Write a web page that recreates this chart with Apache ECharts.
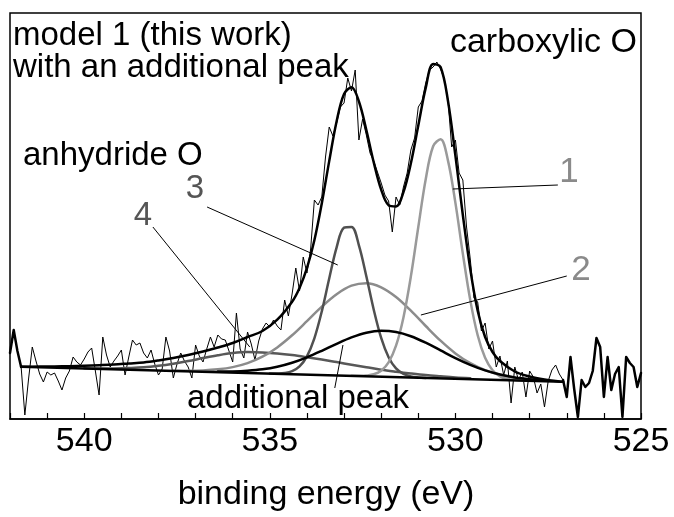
<!DOCTYPE html>
<html>
<head>
<meta charset="utf-8">
<title>O 1s spectrum – model 1</title>
<script src="https://cdn.jsdelivr.net/npm/echarts@6/dist/echarts.min.js"></script>
<style>
  html, body { margin: 0; padding: 0; background: #fff; }
  #chart { width: 674px; height: 517px; }
</style>
</head>
<body>
<div id="chart"></div>
<script>
// ---- measured spectrum: counts (a.u.) from 542.0 eV down to 525.0 eV, step 0.1 eV ----
const rawStart = 542.0;
const rawStep = 0.1;
const rawCounts = [
  66, 89, 68, 52, 4, 40, 72, 58, 45, 37,
  47, 44, 46, 38, 29, 41, 48, 62, 57, 54,
  60, 67, 71, 48, 24, 82, 64, 52, 58, 63,
  69, 44, 62, 79, 74, 76, 66, 61, 69, 55,
  44, 50, 82, 68, 41, 55, 66, 58, 52, 41,
  74, 63, 57, 70, 82, 72, 84, 80, 79, 68,
  57, 106, 70, 61, 87, 75, 59, 78, 90, 96,
  92, 99, 93, 89, 119, 103, 125, 151, 128, 162,
  146, 170, 219, 214, 222, 262, 292, 283, 296, 312,
  316, 341, 328, 349, 279, 300, 284, 266, 258, 247,
  236, 224, 218, 187, 222, 214, 232, 246, 269, 281,
  312, 318, 336, 349, 352, 357, 350, 340, 319, 272,
  279, 246, 239, 192, 160, 121, 117, 88, 96, 70,
  78, 52, 63, 44, 58, 16, 52, 39, 47, 22,
  48, 42, 26, 35, 12, 38, 49, 54, 45, 39,
  22, 62, 30, 2, 39, 32, 36, 48, 81, 72,
  22, 62, 29, 45, 52, 2, 62, 56, 52, 32,
  46
];
// energy window used for the fit
const fitRange = [527.1, 541.7];

// ---- fit results: [binding energy (eV), intensity incl. background] ----
const background = [[527.1, 37.3], [541.7, 52.3]];

const envelope = [
  [527.1, 37.3], [527.2, 37.6], [527.6, 39.5], [528.0, 42.5], [528.4, 47.5],
  [528.8, 58], [529.0, 67], [529.2, 82], [529.4, 108.2], [529.6, 149.9],
  [529.8, 204.0], [530.0, 263.3], [530.2, 318], [530.4, 352], [530.6, 355],
  [530.8, 331], [531.0, 293.5], [531.2, 255.8], [531.4, 226.9], [531.6, 212.6],
  [531.8, 213.8], [532.0, 229.4], [532.2, 256.6], [532.4, 289.0], [532.6, 317.5],
  [532.8, 331.7], [533.0, 325.0], [533.2, 297.8], [533.4, 257.9], [533.6, 215.6],
  [533.8, 178.7], [534.0, 150.8], [534.2, 131.1], [534.4, 117.3], [534.8, 99.3],
  [535.2, 88], [535.6, 82], [536.0, 76], [536.4, 71.5], [536.8, 67.5],
  [537.2, 64], [537.6, 61], [538.0, 58.5], [538.4, 56.5], [538.8, 55.5],
  [539.2, 54.5], [539.6, 53.8], [540.0, 53.2], [540.4, 52.8], [540.8, 52.6],
  [541.2, 52.4], [541.7, 52.3]
];

// peak 1 – carboxylic O
const peak1 = [
  [528.0, 38.2], [528.2, 38.5], [528.4, 39.0], [528.6, 40.0], [528.8, 42.7],
  [529.0, 48.8], [529.2, 61.2], [529.4, 83.7], [529.6, 118.9], [529.8, 165.4],
  [530.0, 216.1], [530.2, 258.4], [530.4, 279.8], [530.6, 272.7], [530.8, 239.8],
  [531.0, 192.0], [531.2, 142.6], [531.4, 101.6], [531.6, 73.3], [531.8, 56.6],
  [532.0, 48.3], [532.2, 44.7], [532.4, 43.5], [532.6, 43.2], [532.8, 43.2]
];

// peak 2
const peak2 = [
  [527.6, 38.3], [528.0, 39.4], [528.4, 41.2], [528.8, 44.2], [529.2, 48.8],
  [529.6, 55.8], [530.0, 65.6], [530.4, 78.3], [530.8, 93.0], [531.2, 108.3],
  [531.6, 122.0], [532.0, 131.7], [532.4, 135.8], [532.8, 133.3], [533.2, 124.8],
  [533.6, 112.3], [534.0, 97.8], [534.4, 83.7], [534.8, 71.6], [535.2, 62.3],
  [535.6, 55.9], [536.0, 51.9], [536.4, 49.7], [536.8, 48.6], [537.2, 48.3],
  [537.6, 48.3]
];

// peak 3 – anhydride O
const peak3 = [
  [530.8, 41.1], [531.0, 41.6], [531.2, 42.6], [531.4, 45.1], [531.6, 50.6],
  [531.8, 61.8], [532.0, 81.1], [532.2, 109.3], [532.4, 142.8], [532.6, 173.7],
  [532.8, 192.1], [533.0, 191.3], [533.2, 171.7], [533.4, 140.5], [533.6, 107.6],
  [533.8, 80.7], [534.0, 62.7], [534.2, 52.6], [534.4, 47.8], [534.6, 46.0],
  [534.8, 45.5], [535.0, 45.4]
];

// peak 4
const peak4 = [
  [529.6, 40.8], [530.0, 41.6], [530.4, 42.7], [530.8, 43.9], [531.2, 45.5],
  [531.6, 47.3], [532.0, 49.3], [532.4, 51.8], [532.8, 54.3], [533.2, 56.9],
  [533.6, 59.5], [534.0, 61.8], [534.4, 63.9], [534.8, 65.5], [535.2, 66.5],
  [535.6, 66.9], [536.0, 65.9], [536.4, 63.7], [536.8, 60.9], [537.2, 57.9],
  [537.6, 55.3], [538.0, 53.2], [538.4, 51.7], [538.8, 51.0], [539.2, 50.6],
  [539.6, 50.6], [540.0, 50.8]
];

// additional peak
const additionalPeak = [
  [527.6, 38.6], [528.0, 39.8], [528.4, 41.6], [528.8, 44.5], [529.2, 48.6],
  [529.6, 54.1], [530.0, 60.9], [530.4, 68.6], [530.8, 76.3], [531.2, 82.8],
  [531.6, 87.0], [532.0, 88.2], [532.4, 86.3], [532.8, 81.6], [533.2, 75.2],
  [533.6, 68.2], [534.0, 61.7], [534.4, 56.3], [534.8, 52.3], [535.2, 49.7],
  [535.6, 48.3], [536.0, 47.6], [536.4, 47.4]
];

// leader lines from the peak numbers to their curves: [[E, I], [E, I]]
const leaders = [
  [[530.07, 230], [527.24, 234]],   // 1
  [[530.93, 104], [527.00, 143]],   // 2
  [[533.17, 154], [536.69, 212]],   // 3
  [[535.54, 72], [538.15, 192]],    // 4
  [[533.03, 74], [533.25, 31]]      // additional peak
];

// x axis
const xMin = 525, xMax = 542, xTickStep = 1, xLabelStep = 5;

// ---- build series data ----
const rawPoints = rawCounts.map((c, i) => [+(rawStart - i * rawStep).toFixed(1), c]);
const rawInside = rawPoints.filter(p => p[0] >= fitRange[0] - 1e-6 && p[0] <= fitRange[1] + 1e-6);
const rawHigh = rawPoints.filter(p => p[0] >= fitRange[1] - 1e-6);
const rawLow = rawPoints.filter(p => p[0] <= fitRange[0] + 1e-6);

const FONT = '"Liberation Sans", Arial, Helvetica, sans-serif';

function line(name, data, color, width, smooth, z) {
  return {
    name, type: 'line', data, showSymbol: false, symbol: 'none',
    smooth: smooth ? 0.35 : false, z: z || 2, silent: true,
    lineStyle: { color, width, join: 'round', cap: 'round' }
  };
}

function txt(text, x, y, size, color, align) {
  return {
    type: 'text', silent: true, z: 100,
    style: {
      text, x, y, fill: color,
      font: size + 'px ' + FONT,
      textAlign: align || 'left', textVerticalAlign: 'middle'
    }
  };
}

const chart = echarts.init(document.getElementById('chart'), null, { renderer: 'canvas' });

const bgSeries = line('background', background, '#000', 2.5, false, 6);
bgSeries.markLine = {
  silent: true, symbol: ['none', 'none'], animation: false,
  label: { show: false },
  lineStyle: { color: '#000', width: 1, type: 'solid' },
  data: leaders.map(l => [{ coord: l[0] }, { coord: l[1] }])
};

chart.setOption({
  animation: false,
  backgroundColor: '#fff',
  grid: {
    left: 10, right: 33, top: 13, bottom: 98,
    show: true, borderColor: '#000', borderWidth: 1.5, backgroundColor: 'transparent'
  },
  xAxis: {
    type: 'value', min: xMin, max: xMax, interval: xTickStep, inverse: true,
    axisLine: { show: true, lineStyle: { color: '#000', width: 1.5 } },
    axisTick: { show: true, inside: true, length: 6, lineStyle: { color: '#000', width: 1.2 } },
    splitLine: { show: false },
    axisLabel: {
      color: '#000', fontSize: 34, fontFamily: FONT, margin: 6,
      formatter: v => (v % xLabelStep === 0 ? String(v) : '')
    }
  },
  yAxis: {
    type: 'value', min: 0, max: 406, show: false,
    splitLine: { show: false }
  },
  series: [
    line('raw', rawInside, '#000', 1, false, 1),
    line('raw outside fit', rawHigh, '#000', 2.5, false, 1),
    line('raw outside fit low', rawLow, '#000', 2.5, false, 1),
    line('peak 4', peak4, '#585858', 2.5, true, 3),
    line('peak 2', peak2, '#8c8c8c', 2.5, true, 3),
    line('peak 3', peak3, '#505050', 2.5, true, 3),
    line('peak 1', peak1, '#9a9a9a', 2.5, true, 3),
    line('additional peak', additionalPeak, '#000', 2.5, true, 4),
    line('envelope', envelope, '#000', 2.5, true, 5),
    bgSeries
  ],
  graphic: [
    txt('model 1 (this work)', 13, 35.5, 33, '#000'),
    txt('with an additional peak', 13, 67.5, 33, '#000'),
    txt('carboxylic O', 637, 43, 34, '#000', 'right'),
    txt('anhydride O', 23, 155.5, 33, '#000'),
    txt('1', 569, 172.5, 35, '#8a8a8a', 'center'),
    txt('2', 581, 270.5, 35, '#8a8a8a', 'center'),
    txt('3', 195, 188.5, 33, '#555', 'center'),
    txt('4', 143, 215.5, 33, '#555', 'center'),
    txt('additional peak', 187, 398.5, 33, '#000'),
    txt('binding energy (eV)', 326, 495, 34, '#000', 'center')
  ]
});
</script>
</body>
</html>
